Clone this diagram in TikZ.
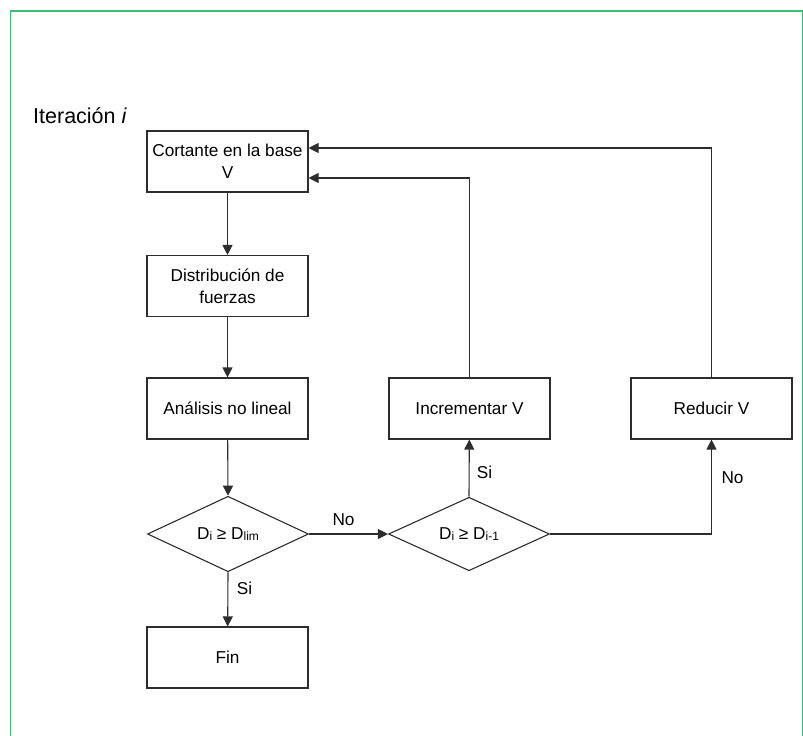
\documentclass[tikz,border=0pt]{standalone}
\usepackage{fontspec}
\setmainfont{Liberation Sans}
\usetikzlibrary{arrows.meta,shapes.geometric}
\definecolor{frame}{RGB}{60,190,115}
\definecolor{ink}{RGB}{45,45,45}
\tikzset{
  box/.style={draw=ink, line width=1.1pt, minimum width=161pt, minimum height=61pt, inner sep=0pt, align=center, font=\fontsize{17.2}{21.5}\selectfont},
  dia/.style={draw=ink, line width=1.1pt, shape=diamond, minimum width=161pt, minimum height=62pt, inner sep=0pt, font=\fontsize{17.2}{21.5}\selectfont},
  conn/.style={draw=ink, line width=1.1pt, -{Triangle[length=10pt,width=10pt]}},
  lbl/.style={font=\fontsize{17.2}{21.5}\selectfont, inner sep=0pt}
}
\newcommand{\sbs}[1]{\raisebox{-0.2ex}{\fontsize{12}{13}\selectfont #1}}
\begin{document}
\begin{tikzpicture}[x=1pt,y=-1pt]
\useasboundingbox (0,0) rectangle (803,736);
\draw[frame, line width=1.6pt] (10.5,745) -- (10.5,11) -- (802.5,11) -- (802.5,745);
\node[anchor=base west, inner sep=0pt, font=\fontsize{21.5}{24}\selectfont] (title) at (33,123) {Iteración \textit{i}};
\node[box] (cort) at (227.5,161.5) {Cortante en la base\\V};
\node[box] (dist) at (227.5,286) {Distribución de\\fuerzas};
\node[box] (anal) at (227.5,408.5) {Análisis no lineal};
\node[dia] (d1) at (228,534) {D\sbs{i} ≥ D\sbs{lim}};
\node[box] (fin) at (227.5,657.5) {Fin};
\node[dia] (d2) at (469,534) {D\sbs{i} ≥ D\sbs{i-1}};
\node[box] (inc) at (469.5,408.5) {Incrementar V};
\node[box] (red) at (711.5,408.5) {Reducir V};
\draw[conn] (cort) -- (dist);
\draw[conn] (dist) -- (anal);
\draw[conn] (anal) -- (d1.north);
\draw[conn] (d1.south) -- (fin);
\draw[conn] (d1.east) -- (d2.west);
\draw[conn] (d2.north) -- (inc);
\draw[conn] (d2.east) -| (red.south);
\draw[conn] (inc.north) |- ([yshift=-16.5pt]cort.east);
\draw[conn] (red.north) |- ([yshift=13.5pt]cort.east);
\node[lbl] (l1) at (244.5,588) {Si};
\node[lbl] (l2) at (343.5,520) {No};
\node[lbl] (l3) at (484.5,472) {Si};
\node[lbl] (l4) at (732.5,478) {No};
\end{tikzpicture}
\end{document}
